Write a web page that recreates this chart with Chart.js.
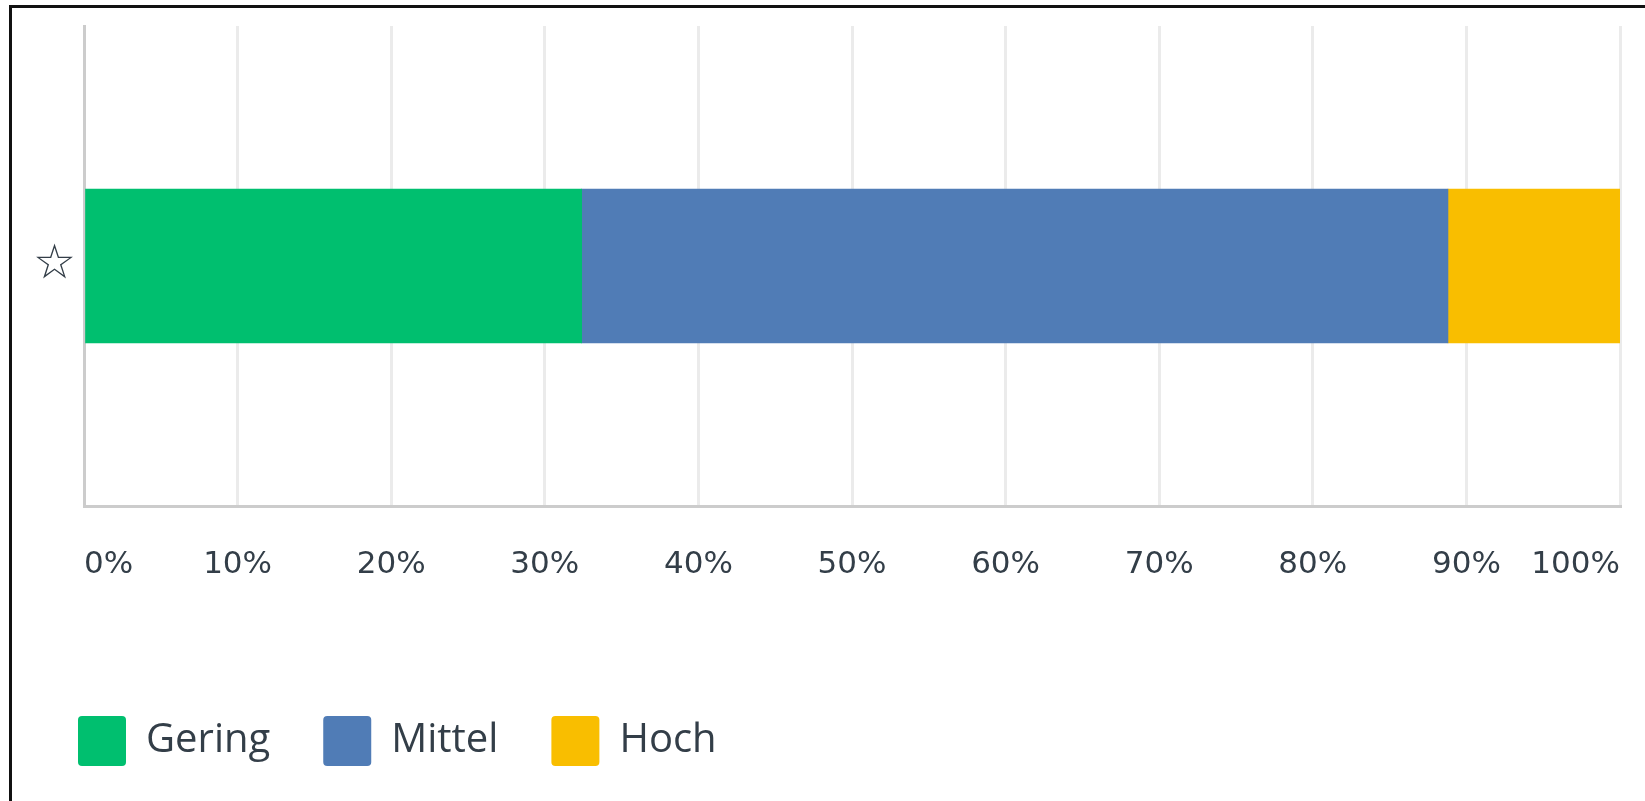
<!DOCTYPE html>
<html>
<head>
<meta charset="utf-8">
<script src="https://cdn.jsdelivr.net/npm/chart.js@4/dist/chart.umd.min.js"></script>
<style>
  html, body { margin: 0; padding: 0; background: #fff; }
  #wrap { position: relative; width: 1645px; height: 801px; }
  #frame {
    position: absolute; left: 9px; top: 5px; right: 0; bottom: 0;
    border-top: 3px solid #111; border-left: 3px solid #111;
    pointer-events: none;
  }
</style>
</head>
<body>
<div id="wrap">
  <canvas id="chart" width="1645" height="801"></canvas>
  <div id="frame"></div>
</div>
<script>
// values (percent of respondents)
const categories = ["☆"]
const seriesNames = ["Gering", "Mittel", "Hoch"]
const gering = [32.4]
const mittel = [56.4]
const hoch = [11.2]
const xTicks = [0, 10, 20, 30, 40, 50, 60, 70, 80, 90, 100]

const colors = ["#00bf6f", "#507cb6", "#f9be00"]
const textColor = "#333e48"

const ctx = document.getElementById("chart").getContext("2d")
new Chart(ctx, {
  type: "bar",
  data: {
    labels: categories,
    datasets: [
      { label: seriesNames[0], data: gering, backgroundColor: colors[0] },
      { label: seriesNames[1], data: mittel, backgroundColor: colors[1] },
      { label: seriesNames[2], data: hoch, backgroundColor: colors[2] },
    ],
  },
  options: {
    indexAxis: "y",
    responsive: false,
    animation: false,
    barThickness: 154,
    layout: { padding: { left: 25, right: 25, top: 26, bottom: 25 } },
    plugins: {
      tooltip: { enabled: false },
      legend: {
        position: "bottom",
        align: "start",
        labels: {
          color: textColor,
          font: { family: "'Open Sans', sans-serif", size: 40, weight: "500" },
          boxWidth: 48,
          boxHeight: 50,
          padding: 53,
          useBorderRadius: true,
          borderRadius: 4,
        },
      },
    },
    scales: {
      x: {
        stacked: true,
        min: 0,
        max: 100,
        afterBuildTicks: (scale) => {
          scale.ticks = xTicks.map((v) => ({ value: v }))
        },
        afterFit: (scale) => {
          scale.height = 157
          scale.paddingLeft = 0
          scale.paddingRight = 0
        },
        grid: { color: "#ebebeb", lineWidth: 3, drawTicks: false },
        border: { color: "#cccccc", width: 3 },
        ticks: {
          align: "inner",
          padding: 40,
          color: textColor,
          font: { family: "'DejaVu Sans', sans-serif", size: 31 },
          callback: (v) => v + "%",
        },
      },
      y: {
        stacked: true,
        afterFit: (scale) => {
          scale.width = 59
          scale.paddingTop = 0
          scale.paddingBottom = 0
        },
        grid: { display: false, drawTicks: false },
        border: { color: "#cccccc", width: 3 },
        ticks: {
          padding: 8,
          color: textColor,
          font: { family: "'DejaVu Sans', sans-serif", size: 48, weight: "bold" },
        },
      },
    },
  },
})
</script>
</body>
</html>
